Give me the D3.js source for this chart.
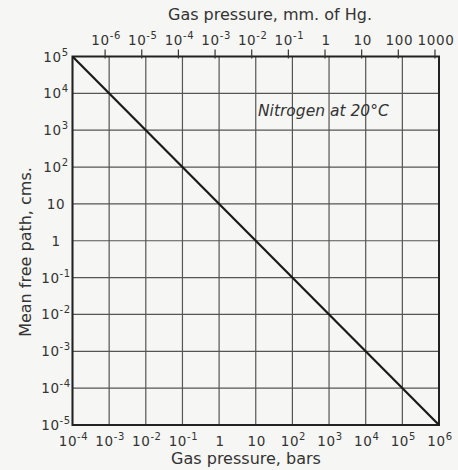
<!DOCTYPE html>
<html><head><meta charset="utf-8">
<script src="https://cdn.jsdelivr.net/npm/d3@7"></script>
<style>
html,body{margin:0;padding:0;background:#f6f6f4;}
svg{display:block;}
text{font-family:"DejaVu Sans",sans-serif;fill:#333;}
</style></head>
<body>
<svg id="c" width="458" height="470"></svg>
<script>
// Data
const pressureBars = [1e-4, 1e6];          // x values of the line (bars)
const meanFreePath = [1e5, 1e-5];          // y values of the line (cm)
const bottomTickExps = [-4,-3,-2,-1,0,1,2,3,4,5,6];
const leftTickExps = [5,4,3,2,1,0,-1,-2,-3,-4,-5];
const topTickExps = [-6,-5,-4,-3,-2,-1,0,1,2,3];
const topTickLabels = ["10|-6","10|-5","10|-4","10|-3","10|-2","10|-1","1","10","100","1000"];
const barsPerMmHg = 776;  // conversion used by the drawn top scale
const xTitle = "Gas pressure, bars";
const topTitle = "Gas pressure, mm. of Hg.";
const yTitle = "Mean free path, cms.";
const note = "Nitrogen at 20°C";

const svg = d3.select("#c");
const L = 72.5, R = 439, T = 56.5, B = 425;
const x = d3.scaleLog().domain([1e-4, 1e6]).range([L, R]);
const y = d3.scaleLog().domain([1e-5, 1e5]).range([B, T]);
const xTop = d3.scaleLog().domain([1e-4/barsPerMmHg, 1e6/barsPerMmHg]).range([L, R]);

function label(sel, s, supfs) {
  const parts = s.split("|");
  sel.text(null);
  sel.append("tspan").text(parts[0]);
  if (parts[1] !== undefined) {
    sel.append("tspan").attr("font-size", supfs).attr("dy", -6).text(parts[1]);
  }
}
function expLabel(e) { return e === 0 ? "1" : e === 1 ? "10" : "10|" + e; }

// grid
const g = svg.append("g");
g.selectAll(".vg").data(bottomTickExps).join("line")
  .attr("x1", d => x(Math.pow(10, d))).attr("x2", d => x(Math.pow(10, d)))
  .attr("y1", T).attr("y2", B).attr("stroke", "#555").attr("stroke-width", 1.2);
g.selectAll(".hg").data(leftTickExps).join("line")
  .attr("y1", d => y(Math.pow(10, d))).attr("y2", d => y(Math.pow(10, d)))
  .attr("x1", L).attr("x2", R).attr("stroke", "#555").attr("stroke-width", 1.2);

// frame
svg.append("rect").attr("x", L).attr("y", T).attr("width", R - L).attr("height", B - T)
  .attr("fill", "none").attr("stroke", "#222").attr("stroke-width", 2);

// line
const line = d3.line().x(d => x(d[0])).y(d => y(d[1]));
svg.append("path").datum(pressureBars.map((p, i) => [p, meanFreePath[i]]))
  .attr("d", line).attr("fill", "none").attr("stroke", "#1a1a1a").attr("stroke-width", 2.2);

// top ticks
svg.selectAll(".tt").data(topTickExps).join("line")
  .attr("x1", d => xTop(Math.pow(10, d))).attr("x2", d => xTop(Math.pow(10, d)))
  .attr("y1", T - 7).attr("y2", T + 2).attr("stroke", "#333").attr("stroke-width", 1.2);
svg.selectAll(".tl").data(topTickExps).join("text")
  .attr("x", (d, i) => xTop(Math.pow(10, d)) + 1).attr("y", 45)
  .attr("text-anchor", "middle").attr("font-size", 13.5).attr("letter-spacing", 0.6)
  .each(function(d, i) { label(d3.select(this), topTickLabels[i], 10); });

// bottom labels
svg.selectAll(".bl").data(bottomTickExps).join("text")
  .attr("x", d => x(Math.pow(10, d)) + 1).attr("y", 446)
  .attr("text-anchor", "middle").attr("font-size", 13.5).attr("letter-spacing", 0.6)
  .each(function(d) { label(d3.select(this), expLabel(d), 10); });

// left labels
svg.selectAll(".ll").data(leftTickExps).join("text")
  .attr("x", 56).attr("y", d => y(Math.pow(10, d)) + 5)
  .attr("text-anchor", "middle").attr("font-size", 13.5).attr("letter-spacing", 0.6)
  .each(function(d) { label(d3.select(this), expLabel(d), 10); });

// titles
svg.append("text").attr("x", 270).attr("y", 20).attr("text-anchor", "middle")
  .attr("font-size", 16).text(topTitle);
svg.append("text").attr("x", 246).attr("y", 464).attr("text-anchor", "middle")
  .attr("font-size", 16).text(xTitle);
svg.append("text").attr("transform", "translate(31,252) rotate(-90)")
  .attr("text-anchor", "middle").attr("font-size", 16).text(yTitle);

// note
svg.append("text").attr("x", 258).attr("y", 116).attr("font-style", "italic")
  .attr("font-size", 15.5).text(note);
</script>
</body></html>
